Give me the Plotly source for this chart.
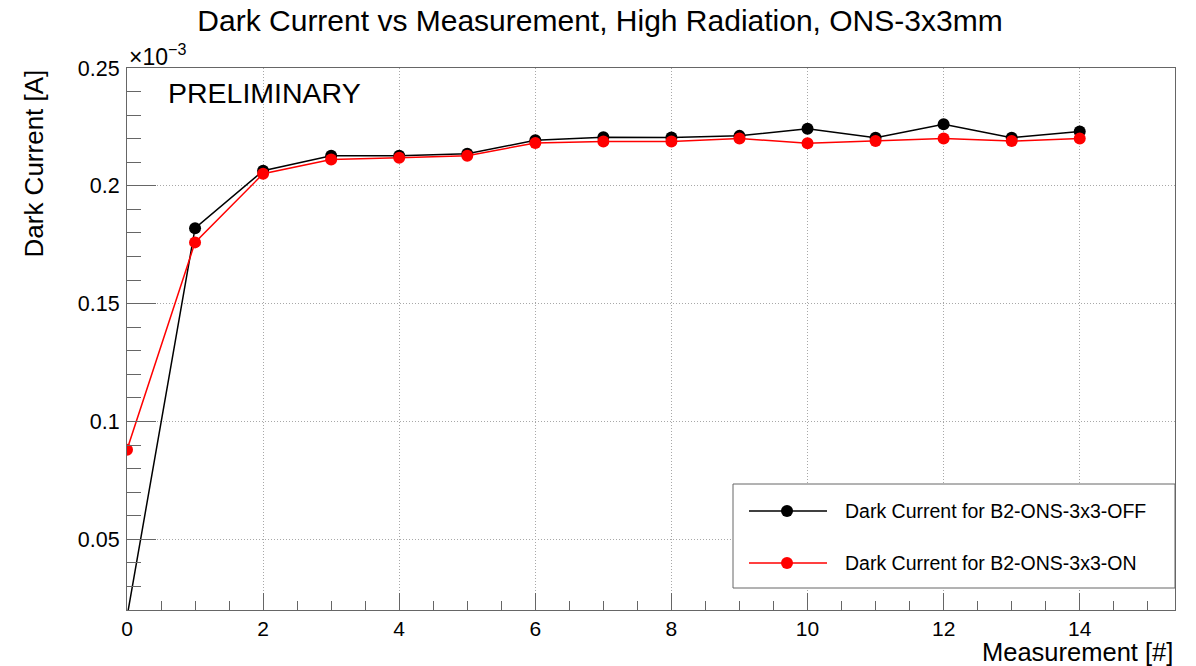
import plotly.graph_objects as go

# Data (Dark current in units of 1e-3 A)
measurement = list(range(15))
dark_off = [0.017, 0.182, 0.2064, 0.2128, 0.2128, 0.2136, 0.2193, 0.2206, 0.2205, 0.2212,
            0.2242, 0.2204, 0.2261, 0.2204, 0.2231]
dark_on = [0.088, 0.176, 0.2051, 0.2112, 0.2119, 0.2128, 0.2182, 0.2188, 0.2188, 0.2201,
           0.2181, 0.2190, 0.2201, 0.2190, 0.2201]
series_names = ["Dark Current for B2-ONS-3x3-OFF", "Dark Current for B2-ONS-3x3-ON"]
series_colors = ["#000000", "#ff0000"]

FONT = "Liberation Sans, Arial, Helvetica, sans-serif"
AXC = "#666666"
GRIDC = "#a8a8a8"

fig = go.Figure()
for ys, name, col in zip([dark_off, dark_on], series_names, series_colors):
    fig.add_trace(go.Scatter(
        x=measurement, y=ys, mode="lines+markers", name=name,
        line=dict(color=col, width=1.5),
        marker=dict(color=col, size=12, symbol="circle"),
        showlegend=False, cliponaxis=True))

fig.update_layout(
    width=1196, height=666,
    margin=dict(l=127, r=21, t=68, b=56),
    paper_bgcolor="white", plot_bgcolor="white",
    font=dict(family=FONT, color="black"),
    title=dict(text="Dark Current vs Measurement, High Radiation, ONS-3x3mm",
               x=600 / 1196, xanchor="center", y=1 - 20 / 666, yanchor="middle",
               xref="container",
               font=dict(size=30, family=FONT, color="black")),
)

fig.update_xaxes(
    range=[0, 15.4], dtick=2, tick0=0,
    showline=True, linecolor=AXC, linewidth=1, mirror=True,
    ticks="inside", ticklen=17, tickcolor=AXC, tickwidth=1,
    showgrid=True, gridcolor=GRIDC, griddash="1px,2px", gridwidth=1,
    zeroline=False,
    tickfont=dict(size=21, family=FONT, color="black"),
    ticklabelstandoff=0,
    minor=dict(ticks="inside", ticklen=9, dtick=0.5, tick0=0, tickcolor=AXC, showgrid=False),
)
fig.update_yaxes(
    range=[0.02, 0.25], dtick=0.05, tick0=0,
    showline=True, linecolor=AXC, linewidth=1, mirror=True,
    ticks="inside", ticklen=29, tickcolor=AXC, tickwidth=1,
    showgrid=True, gridcolor=GRIDC, griddash="1px,2px", gridwidth=1,
    zeroline=False,
    tickfont=dict(size=21.5, family=FONT, color="black"),
    ticklabelstandoff=2,
    minor=dict(ticks="inside", ticklen=14, dtick=0.01, tick0=0, tickcolor=AXC, showgrid=False),
)

annotations = [
    dict(text="Measurement [#]", xref="paper", yref="paper", x=1, y=-0.078,
         xanchor="right", yanchor="middle", showarrow=False,
         font=dict(size=25.5, family=FONT, color="black")),
    dict(text="Dark Current [A]", xref="paper", yref="paper", x=(33.5 - 127) / 1048, y=1,
         xanchor="center", yanchor="top", textangle=-90, showarrow=False,
         font=dict(size=26, family=FONT, color="black")),
    dict(text="×10<sup>−3</sup>", xref="paper", yref="paper", x=0, y=1, yshift=-4,
         xanchor="left", yanchor="bottom", showarrow=False,
         font=dict(size=23, family=FONT, color="black")),
    dict(text="PRELIMINARY", xref="paper", yref="paper", x=(166 - 127) / 1048, y=(610 - 93) / 542,
         xanchor="left", yanchor="middle", showarrow=False,
         font=dict(size=28.5, family=FONT, color="black")),
]

# Manual ROOT-style legend box
shapes = [dict(type="rect", xref="paper", yref="paper",
               x0=(733 - 127) / 1048, x1=1.0, y0=(610 - 588) / 542, y1=(610 - 484) / 542,
               line=dict(color=AXC, width=1), fillcolor="white", layer="above")]
row_y = [(610 - 511) / 542, (610 - 563) / 542]
for ry, name, col in zip(row_y, series_names, series_colors):
    shapes.append(dict(type="line", xref="paper", yref="paper",
                       x0=(749 - 127) / 1048, x1=(827 - 127) / 1048, y0=ry, y1=ry,
                       line=dict(color=col, width=1.5), layer="above"))
    shapes.append(dict(type="circle", xref="paper", yref="paper",
                       xsizemode="pixel", ysizemode="pixel",
                       xanchor=(787 - 127) / 1048, yanchor=ry,
                       x0=-6, x1=6, y0=-6, y1=6,
                       line=dict(color=col, width=0), fillcolor=col, layer="above"))
    annotations.append(dict(text=name, xref="paper", yref="paper",
                            x=(843 - 127) / 1048, y=ry, xanchor="left", yanchor="middle",
                            showarrow=False, font=dict(size=19.5, family=FONT, color="black")))

fig.update_layout(annotations=annotations, shapes=shapes)
fig.write_html("out.html")
